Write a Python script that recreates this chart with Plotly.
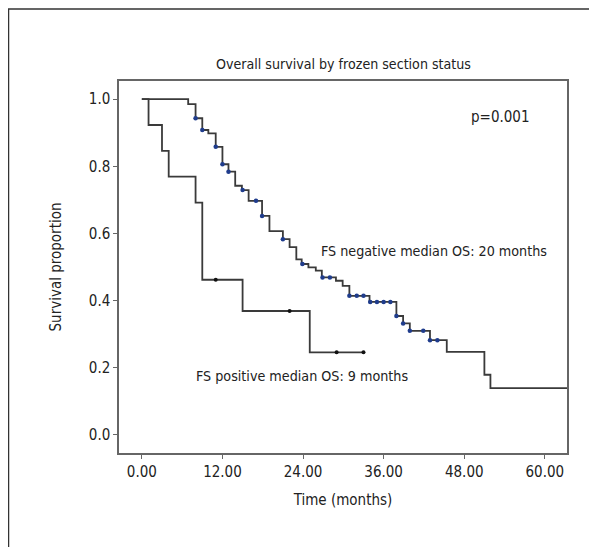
import plotly.graph_objects as go

# FS positive group (step curve)
pos_time = [0, 1, 3, 4, 8, 9, 15, 25, 33]
pos_surv = [1.0, 0.923, 0.846, 0.769, 0.692, 0.462, 0.369, 0.246, 0.246]
pos_cens_time = [11, 22, 29, 33]
pos_cens_surv = [0.462, 0.369, 0.246, 0.246]

# FS negative group (step curve)
neg_time = [0, 6.9, 8.0, 9.0, 9.9, 11.0, 12.0, 12.9, 13.9, 14.9, 15.9, 17.9, 19.0,
            21.0, 22.0, 23.0, 23.8, 24.8, 25.9, 26.8, 28.9, 29.9, 30.9, 33.9, 37.9,
            38.9, 39.9, 42.9, 45.4, 51.0, 51.9, 66]
neg_surv = [1.0, 0.985, 0.943, 0.908, 0.898, 0.858, 0.806, 0.784, 0.742, 0.729, 0.697,
            0.652, 0.607, 0.583, 0.559, 0.523, 0.509, 0.499, 0.489, 0.469, 0.459, 0.444,
            0.414, 0.396, 0.354, 0.332, 0.310, 0.282, 0.247, 0.179, 0.139, 0.139]
neg_cens_time = [8.0, 9.0, 11.0, 12.0, 12.9, 15.0, 17.0, 17.9, 21.0, 23.9, 26.9, 28.0,
                 30.9, 32.0, 33.0, 34.0, 35.0, 36.0, 37.0, 37.9, 38.9, 39.9, 41.9, 42.9, 44.0]
neg_cens_surv = [0.943, 0.908, 0.858, 0.806, 0.784, 0.729, 0.697, 0.652, 0.583, 0.509,
                 0.469, 0.469, 0.414, 0.414, 0.414, 0.396, 0.396, 0.396, 0.396, 0.354,
                 0.332, 0.310, 0.310, 0.282, 0.282]

x_tick_vals = [0, 12, 24, 36, 48, 60]
x_tick_text = ["0.00", "12.00", "24.00", "36.00", "48.00", "60.00"]
y_tick_vals = [0.0, 0.2, 0.4, 0.6, 0.8, 1.0]
y_tick_text = ["0.0", "0.2", "0.4", "0.6", "0.8", "1.0"]

FONT = "DejaVu Sans Condensed, Liberation Sans Narrow, sans-serif"
LINE = "#3a3a3a"
TXT = "#222222"

fig = go.Figure()
fig.add_trace(go.Scatter(x=neg_time, y=neg_surv, mode="lines", line_shape="hv",
                         line=dict(color=LINE, width=1.8), showlegend=False))
fig.add_trace(go.Scatter(x=neg_cens_time, y=neg_cens_surv, mode="markers",
                         marker=dict(color="#1f3c8c", size=4.5), showlegend=False))
fig.add_trace(go.Scatter(x=pos_time, y=pos_surv, mode="lines", line_shape="hv",
                         line=dict(color=LINE, width=1.8), showlegend=False))
fig.add_trace(go.Scatter(x=pos_cens_time, y=pos_cens_surv, mode="markers",
                         marker=dict(color="#111111", size=4), showlegend=False))

axis_common = dict(showline=True, linecolor="#666666", linewidth=1.5, mirror=True,
                   ticks="outside", ticklen=4, tickcolor="#666666", tickwidth=1.2,
                   showgrid=False, zeroline=False,
                   tickfont=dict(family=FONT, size=15, color=TXT))

fig.update_xaxes(range=[-3.4, 63.3], tickvals=x_tick_vals, ticktext=x_tick_text,
                 title=dict(text="Time (months)", font=dict(family=FONT, size=15, color=TXT),
                            standoff=15),
                 **axis_common)
fig.update_yaxes(range=[-0.054, 1.054], tickvals=y_tick_vals, ticktext=y_tick_text,
                 title=dict(text="Survival proportion", font=dict(family=FONT, size=15, color=TXT),
                            standoff=24),
                 **axis_common)

OFF = 8  # page body margin
W, H = 589, 539
# plot area in screen px: left 119, right 567, top 81, bottom 453
L, T = 119 - OFF, 81 - OFF
R = W - (567 - OFF)
B = H - (453 - OFF)
pw, ph = W - L - R, H - T - B

def px2paper(sx, sy):
    fx, fy = sx - OFF, sy - OFF
    return (fx - L) / pw, (H - B - fy) / ph

x0, y0 = px2paper(8.5, 9)
x1, y1 = px2paper(620, 570)
fig.add_shape(type="rect", xref="paper", yref="paper", x0=x0, y0=y1, x1=x1, y1=y0,
              line=dict(color="#333333", width=1.5), fillcolor="rgba(0,0,0,0)")

annots = [
    ("Overall survival by frozen section status", 343, 64, 14.1),
    ("p=0.001", 500, 117, 15),
    ("FS negative median OS: 20 months", 434, 251, 14.2),
    ("FS positive median OS: 9 months", 302, 376, 14.2),
]
for text, cx, cy, sz in annots:
    ax, ay = px2paper(cx, cy)
    fig.add_annotation(text=text, x=ax, y=ay, xref="paper", yref="paper",
                       showarrow=False, xanchor="center", yanchor="middle",
                       font=dict(family=FONT, size=sz, color=TXT))

fig.update_layout(width=W, height=H, margin=dict(l=L, r=R, t=T, b=B),
                  plot_bgcolor="white", paper_bgcolor="white")

fig.write_html("out.html")
